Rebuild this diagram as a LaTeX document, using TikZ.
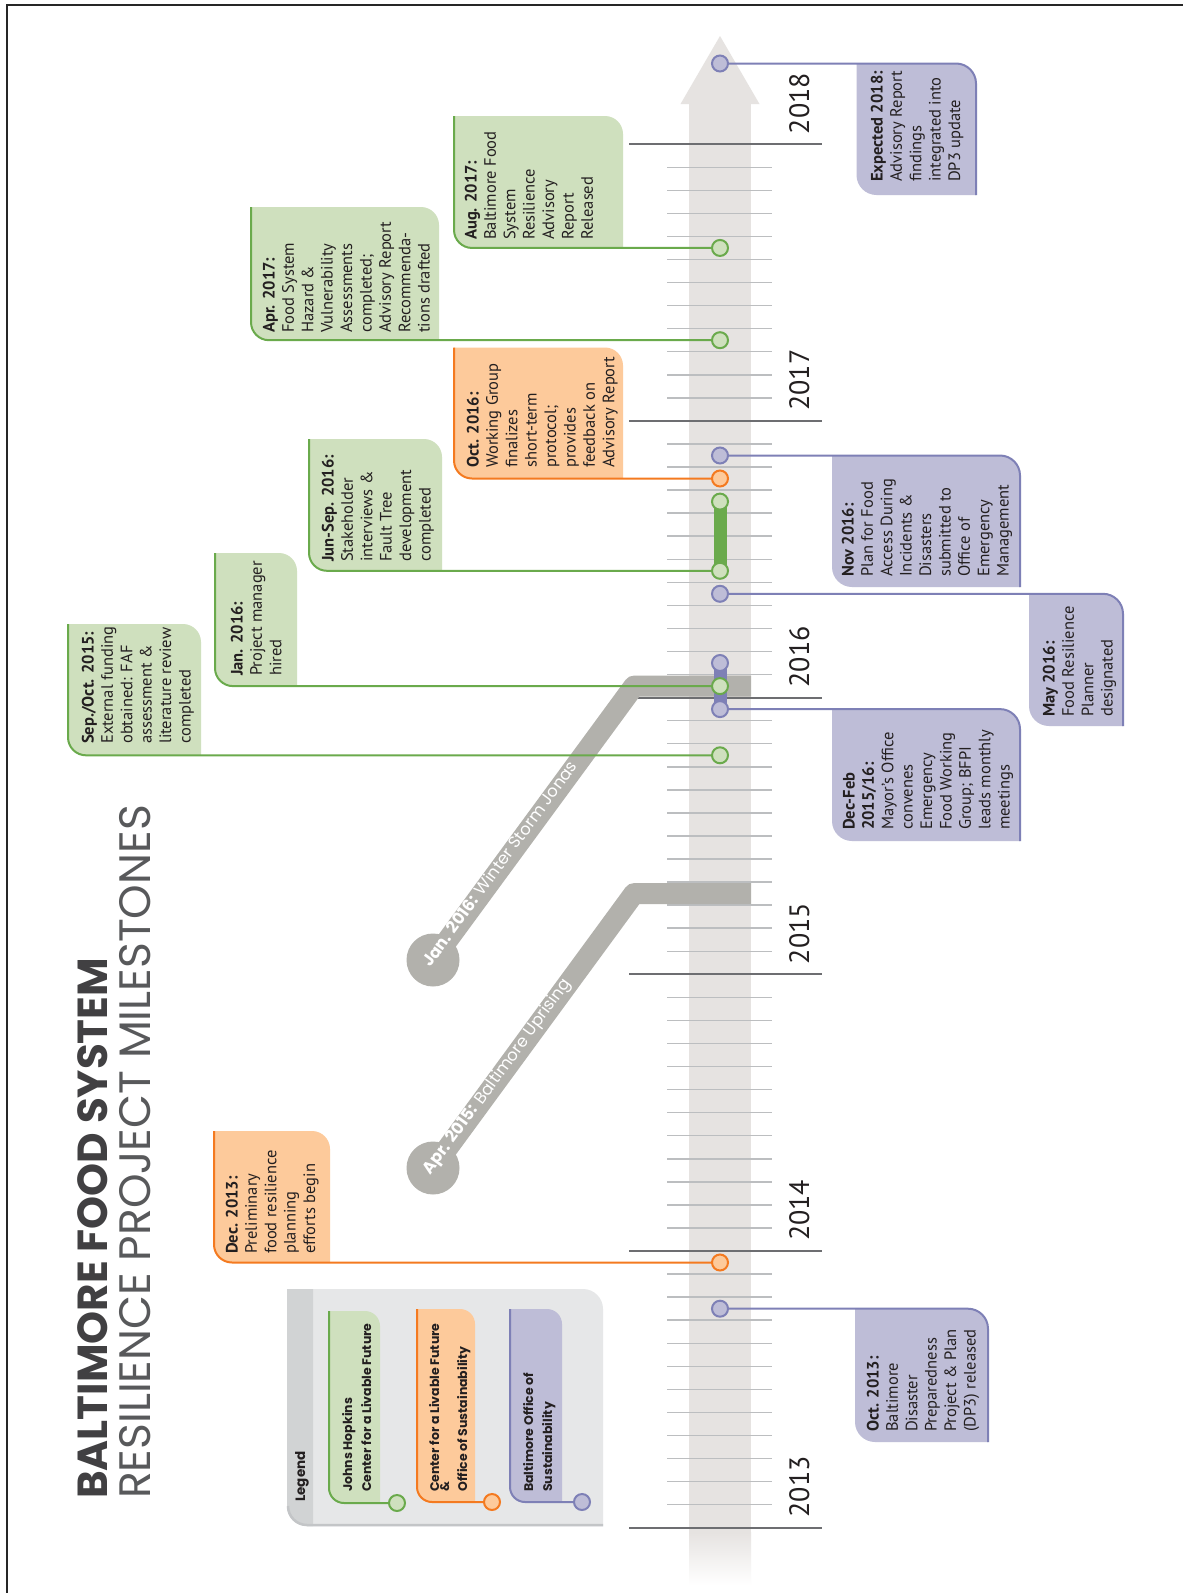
\documentclass[tikz,border=0pt]{standalone}
\usepackage{fontspec}
\setmainfont{PT Sans}
\newfontfamily\popfont{Poppins}
\definecolor{gline}{HTML}{6AAA4C}
\definecolor{gfill}{HTML}{CFE0BE}
\definecolor{oline}{HTML}{F47A20}
\definecolor{ofill}{HTML}{FDCA9B}
\definecolor{pline}{HTML}{7E80B6}
\definecolor{pfill}{HTML}{BEBDD7}
\definecolor{band}{HTML}{E6E3E1}
\definecolor{evgray}{HTML}{B2B1AC}
\definecolor{tickminor}{HTML}{BCBEC0}
\definecolor{tickmajor}{HTML}{6D6E71}
\definecolor{txt}{HTML}{231F20}
\definecolor{titleA}{HTML}{414042}
\definecolor{titleB}{HTML}{58595B}
\definecolor{legfill}{HTML}{E6E7E8}
\definecolor{legstrip}{HTML}{D1D3D4}
\definecolor{legedge}{HTML}{C3C5C7}
\newcommand\Lines[1]{\begin{tabular}[t]{@{}l@{}}#1\end{tabular}}
% left box: xL xR yT yB fill line dot radius
\newcommand\LBox[8]{%
  \fill[#5] (#1,-#3) -- ({#2-#8},-#3) arc[start angle=90,end angle=0,radius=#8pt] -- (#2,-#4) -- ({#1+#8},-#4) arc[start angle=270,end angle=180,radius=#8pt] -- cycle;
  \draw[#6,conn] (#1,-#3) -- (#1,{-#4+#8}) arc[start angle=180,end angle=270,radius=#8pt] -- (#7);
}
% right box: xL xR yT yB fill line dot radius
\newcommand\RBox[8]{%
  \fill[#5] (#1,-#3) -- ({#2-#8},-#3) arc[start angle=90,end angle=0,radius=#8pt] -- (#2,-#4) -- ({#1+#8},-#4) arc[start angle=270,end angle=180,radius=#8pt] -- cycle;
  \draw[#6,conn] (#7) -- ({#2-#8},-#3) arc[start angle=90,end angle=0,radius=#8pt] -- (#2,-#4);
}
\tikzset{
  conn/.style={line width=2pt},
  dotg/.style={circle, draw=gline, fill=gfill, line width=2pt, minimum size=16pt, inner sep=0pt},
  doto/.style={circle, draw=oline, fill=ofill, line width=2pt, minimum size=16pt, inner sep=0pt},
  dotp/.style={circle, draw=pline, fill=pfill, line width=2pt, minimum size=16pt, inner sep=0pt},
  boxtext/.style={rotate=90, anchor=base west, inner sep=0pt, text=txt, font=\fontsize{16.5}{19.4}\selectfont},
  legtext/.style={rotate=90, anchor=base west, inner sep=0pt, text=txt, font=\popfont\bfseries\fontsize{12.5}{19}\selectfont},
  yearlab/.style={rotate=90, anchor=base west, inner sep=0pt, text=txt, font=\fontsize{28}{30}\selectfont},
  evtext/.style={rotate=53.74, anchor=mid west, inner sep=0pt, text=white, font=\popfont\fontsize{16.5}{18}\selectfont},
  evcirc/.style={circle, fill=evgray, minimum size=53pt, inner sep=0pt},
  evbar/.style={line width=21pt, draw=evgray, line join=round},
  minortick/.style={draw=tickminor, line width=1.5pt},
  majortick/.style={draw=tickmajor, line width=2pt},
  vbar/.style={line width=13pt}
}
\begin{document}
\begin{tikzpicture}[x=1pt,y=1pt]
\useasboundingbox (0,0) rectangle (1183,-1593);
\fill[white] (0,0) rectangle (1183,-1593);
% frame
\draw[line width=1.5pt, black!85] (7,-1593) -- (7,-5) -- (1183,-5);
% timeline band
\fill[band] (689,-104) rectangle (751,-1533);
\fill[band] (680.5,-104) -- (720,-36) -- (759.5,-104) -- cycle;
\shade[top color=band, bottom color=white] (689,-1532.5) rectangle (751,-1585);
% ticks
\foreach \k in {0,...,4}{\foreach \m in {1,...,11}{
  \draw[minortick] (667,{-(1527.7-\k*276.7-\m*23.058)}) -- (772,{-(1527.7-\k*276.7-\m*23.058)});}}
\foreach \k in {0,...,5}{\draw[majortick] (629,{-(1527.7-\k*276.7)}) -- (822,{-(1527.7-\k*276.7)});}
\foreach \k/\yy in {0/2013,1/2014,2/2015,3/2016,4/2017,5/2018}{
  \node[yearlab] (yr\yy) at (809,{-(1527.7-\k*276.7-10)}) {\yy};}
% event bars
\node[evcirc] (upC) at (433,-1168) {};
\coordinate (upB) at (634,-893.6);
\coordinate (upE) at (751,-893.6);
\draw[evbar] (upC.center) -- (upB) -- (upE);
\node[evtext] (upT) at (428.3,-1174.4) {\textbf{Apr. 2015:} Baltimore Uprising};
\node[evcirc] (jnC) at (433,-960) {};
\coordinate (jnB) at (634,-686.1);
\coordinate (jnE) at (751,-686.1);
\draw[evbar] (jnC.center) -- (jnB) -- (jnE);
\node[evtext] (jnT) at (428.3,-966.4) {\textbf{Jan. 2016:} Winter Storm Jonas};
% milestone points
\coordinate (d18) at (720,-63.5);
\coordinate (dAug17) at (720,-247.95);
\coordinate (dApr17) at (720,-340.2);
\coordinate (dNov16) at (720,-455.5);
\coordinate (dOct16) at (720,-478.5);
\coordinate (dSep16) at (720,-501.6);
\coordinate (dJun16) at (720,-570.8);
\coordinate (dMay16) at (720,-593.8);
\coordinate (dFeb16) at (720,-663.0);
\coordinate (dJan16) at (720,-686.1);
\coordinate (dDec15) at (720,-709.1);
\coordinate (dOct15) at (720,-755.3);
\coordinate (dDec13) at (720,-1262.5);
\coordinate (dOct13) at (720,-1308.7);
% left boxes
\LBox{454}{623}{116}{247.95}{gfill}{gline}{dAug17}{18}
\node[boxtext] (tAug17) at (476.5,-240) {\Lines{\textbf{Aug. 2017:}\\Baltimore Food\\System\\Resilience\\Advisory\\Report\\Released}};
\LBox{251}{439}{207}{340.2}{gfill}{gline}{dApr17}{18}
\node[boxtext] (tApr17) at (274.5,-333) {\Lines{\textbf{Apr. 2017:}\\Food System\\Hazard \&\\Vulnerability\\Assessments\\completed;\\Advisory Report\\Recommenda-\\tions drafted}};
\LBox{454}{623}{347.5}{478.5}{ofill}{oline}{dOct16}{18}
\node[boxtext] (tOct16) at (478.5,-468) {\Lines{\textbf{Oct. 2016:}\\Working Group\\finalizes\\short-term\\protocol;\\provides\\feedback on\\Advisory Report}};
\LBox{309}{442}{439}{570.8}{gfill}{gline}{dJun16}{18}
\node[boxtext] (tJun16) at (333.5,-562) {\Lines{\textbf{Jun-Sep. 2016:}\\Stakeholder\\interviews \&\\Fault Tree\\development\\completed}};
\LBox{215}{297}{553}{686.1}{gfill}{gline}{dJan16}{18}
\node[boxtext] (tJan16) at (242.5,-676) {\Lines{\textbf{Jan. 2016:}\\Project manager\\hired}};
\LBox{68}{201}{624}{755.3}{gfill}{gline}{dOct15}{18}
\node[boxtext] (tOct15) at (93.5,-744) {\Lines{\textbf{Sep./Oct. 2015:}\\External funding\\obtained: FAF\\assessment \&\\literature review\\completed}};
\LBox{214}{330}{1131}{1262.5}{ofill}{oline}{dDec13}{18}
\node[boxtext] (tDec13) at (237.5,-1254) {\Lines{\textbf{Dec. 2013:}\\Preliminary\\food resilience\\planning\\efforts begin}};
% right boxes
\RBox{856.5}{976}{63.5}{195}{pfill}{pline}{d18}{20}
\node[boxtext] (t18) at (882.5,-182) {\Lines{\textbf{Expected 2018:}\\Advisory Report\\findings\\integrated into\\DP3 update}};
\RBox{832}{1020}{455.5}{587}{pfill}{pline}{dNov16}{20}
\node[boxtext] (tNov16) at (853.5,-577) {\Lines{\textbf{Nov 2016:}\\Plan for Food\\Access During\\Incidents \&\\Disasters\\submitted to\\Office of\\Emergency\\Management}};
\RBox{1029}{1123}{593.8}{726}{pfill}{pline}{dMay16}{20}
\node[boxtext] (tMay16) at (1054.5,-717) {\Lines{\textbf{May 2016:}\\Food Resilience\\Planner\\designated}};
\RBox{832}{1020}{709.1}{841}{pfill}{pline}{dDec15}{20}
\node[boxtext] (tDec15) at (854.5,-830) {\Lines{\textbf{Dec-Feb}\\\textbf{2015/16:}\\Mayor’s Office\\convenes\\Emergency\\Food Working\\Group; BFPI\\leads monthly\\meetings}};
\RBox{855}{988}{1308.7}{1442}{pfill}{pline}{dOct13}{20}
\node[boxtext] (tOct13) at (878.5,-1432) {\Lines{\textbf{Oct. 2013:}\\Baltimore\\Disaster\\Preparedness\\Project \& Plan\\(DP3) released}};
% duration bars
\draw[vbar, gline] (dSep16) -- (dJun16);
\draw[vbar, pline] (dFeb16) -- (dDec15);
% dots
\node[dotp] (n18) at (d18) {};
\node[dotg] (nAug17) at (dAug17) {};
\node[dotg] (nApr17) at (dApr17) {};
\node[dotp] (nNov16) at (dNov16) {};
\node[doto] (nOct16) at (dOct16) {};
\node[dotg] (nSep16) at (dSep16) {};
\node[dotg] (nJun16) at (dJun16) {};
\node[dotp] (nMay16) at (dMay16) {};
\node[dotp] (nFeb16) at (dFeb16) {};
\node[dotp] (nDec15) at (dDec15) {};
\node[dotg] (nJan16) at (dJan16) {};
\node[dotg] (nOct15) at (dOct15) {};
\node[doto] (nDec13) at (dDec13) {};
\node[dotp] (nOct13) at (dOct13) {};
% title
\node[rotate=90, anchor=base west, inner sep=0pt, text=titleA, font=\popfont\bfseries\fontsize{42}{44}\selectfont] (title1) at (107,-1499) {BALTIMORE FOOD SYSTEM};
\node[rotate=90, anchor=base west, inner sep=0pt, text=titleB, font=\popfont\fontsize{44}{46}\selectfont] (title2) at (150,-1499) {RESILIENCE PROJECT MILESTONES};
% legend
\fill[legfill] (287,-1289) -- (583,-1289) arc[start angle=90,end angle=0,radius=20pt] -- (603,-1526) -- (307,-1526) arc[start angle=270,end angle=180,radius=20pt] -- cycle;
\fill[legstrip] (287,-1289) -- (313,-1289) -- (313,-1526) -- (307,-1526) arc[start angle=270,end angle=180,radius=20pt] -- cycle;
\draw[legedge, line width=2.5pt] (603,-1525) -- (307,-1525) arc[start angle=270,end angle=180,radius=19pt];
\node[legtext, font=\popfont\bfseries\fontsize{13.5}{15}\selectfont] (legT) at (305,-1502) {Legend};
\coordinate (lgG) at (397,-1503);
\coordinate (lgO) at (492,-1502);
\coordinate (lgP) at (582,-1502);
\LBox{329}{380}{1311}{1503}{gfill}{gline}{lgG}{15}
\LBox{417}{475}{1309}{1502}{ofill}{oline}{lgO}{15}
\LBox{510}{562}{1309}{1502}{pfill}{pline}{lgP}{15}
\node[legtext] (lgGT) at (352,-1492) {\Lines{Johns Hopkins\\Center for a Livable Future}};
\node[legtext] (lgOT) at (439,-1492) {\Lines{Center for a Livable Future\\[-9pt]\&\\[-1pt]Office of Sustainability}};
\node[legtext] (lgPT) at (533,-1492) {\Lines{Baltimore Office of\\Sustainability}};
\node[dotg] (nlgG) at (lgG) {};
\node[doto] (nlgO) at (lgO) {};
\node[dotp] (nlgP) at (lgP) {};
\end{tikzpicture}
\end{document}
